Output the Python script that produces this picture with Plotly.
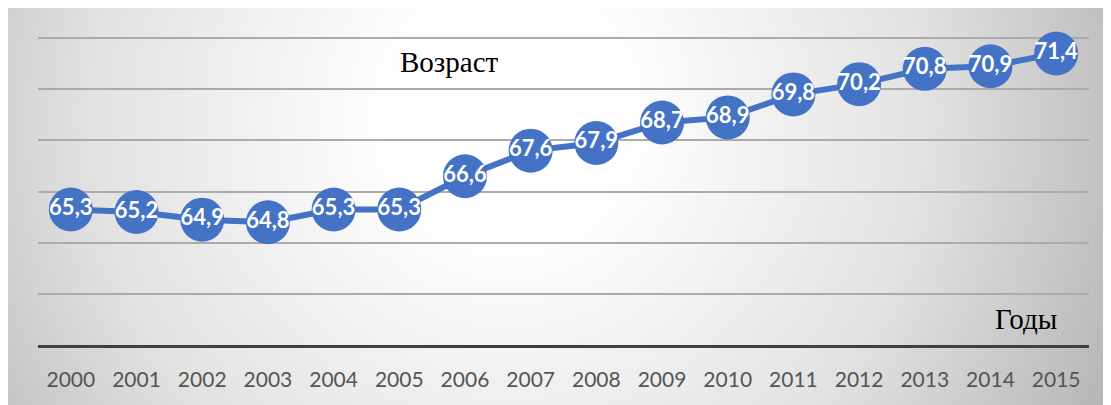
import base64
import plotly.graph_objects as go

years = ["2000", "2001", "2002", "2003", "2004", "2005", "2006", "2007",
         "2008", "2009", "2010", "2011", "2012", "2013", "2014", "2015"]
ages = [65.3, 65.2, 64.9, 64.8, 65.3, 65.3, 66.6, 67.6,
        67.9, 68.7, 68.9, 69.8, 70.2, 70.8, 70.9, 71.4]
labels = [f"{v:.1f}".replace(".", ",") for v in ages]
title_text = "Возраст"
xaxis_text = "Годы"

# page body has an 8px margin; figure is sized to fit the 1111x405 window
OFF = 8
W, H = 1111 - OFF, 405 - OFF
ML, MR, MT, MB = 38 - OFF, 22, 25, 60
PW, PH = W - ML - MR, H - MT - MB


def px_x(page_x):
    return (page_x - OFF - ML) / PW


def px_y(page_y):
    return (H - MB - (page_y - OFF)) / PH


svg = f'''<svg xmlns="http://www.w3.org/2000/svg" width="{W}" height="{H}" viewBox="0 0 {W} {H}" preserveAspectRatio="none">
<defs><radialGradient id="g" gradientUnits="userSpaceOnUse" cx="500" cy="110" r="760">
<stop offset="0" stop-color="#ffffff"/><stop offset="0.15" stop-color="#ffffff"/>
<stop offset="0.55" stop-color="#e2e2e2"/>
<stop offset="1" stop-color="#a4a4a4"/></radialGradient></defs>
<rect x="0" y="0" width="{W}" height="{H}" fill="url(#g)"/></svg>'''
src = "data:image/svg+xml;base64," + base64.b64encode(svg.encode()).decode()

fig = go.Figure()
fig.add_trace(go.Scatter(
    x=years, y=ages, mode="lines+markers+text",
    text=labels, textposition="middle center",
    textfont=dict(family="Lato", size=22, color="white", weight="bold"),
    line=dict(color="#4472C4", width=6),
    marker=dict(size=44, color="#4472C4", line=dict(width=0)),
    cliponaxis=False, hoverinfo="skip",
))

fig.add_layout_image(dict(
    source=src, xref="paper", yref="paper",
    x=-ML / PW, y=1 + MT / PH,
    sizex=W / PW, sizey=H / PH,
    xanchor="left", yanchor="top", sizing="stretch", layer="below",
))

fig.add_annotation(text=title_text, xref="paper", yref="paper",
                   x=px_x(449), y=px_y(62),
                   xanchor="center", yanchor="middle", showarrow=False,
                   font=dict(family="Liberation Serif", size=29, color="#000000"))
fig.add_annotation(text=xaxis_text, xref="paper", yref="paper",
                   x=px_x(1026), y=px_y(319),
                   xanchor="center", yanchor="middle", showarrow=False,
                   font=dict(family="Liberation Serif", size=29, color="#000000"))

fig.update_layout(
    width=W, height=H,
    margin=dict(l=ML, r=MR, t=MT, b=MB, pad=0),
    paper_bgcolor="white", plot_bgcolor="rgba(0,0,0,0)",
    showlegend=False,
    xaxis=dict(type="category", range=[-0.5, 15.5], showgrid=False,
               showline=True, linecolor="#404040", linewidth=3,
               ticks="", ticklabelstandoff=14,
               tickfont=dict(family="Lato", size=21, color="#555555"),
               fixedrange=True),
    yaxis=dict(range=[60, 72.2], dtick=2, tick0=60, showgrid=True,
               gridcolor="#ababab", gridwidth=2, zeroline=False,
               showticklabels=False, fixedrange=True),
)

fig.write_html("out.html")
